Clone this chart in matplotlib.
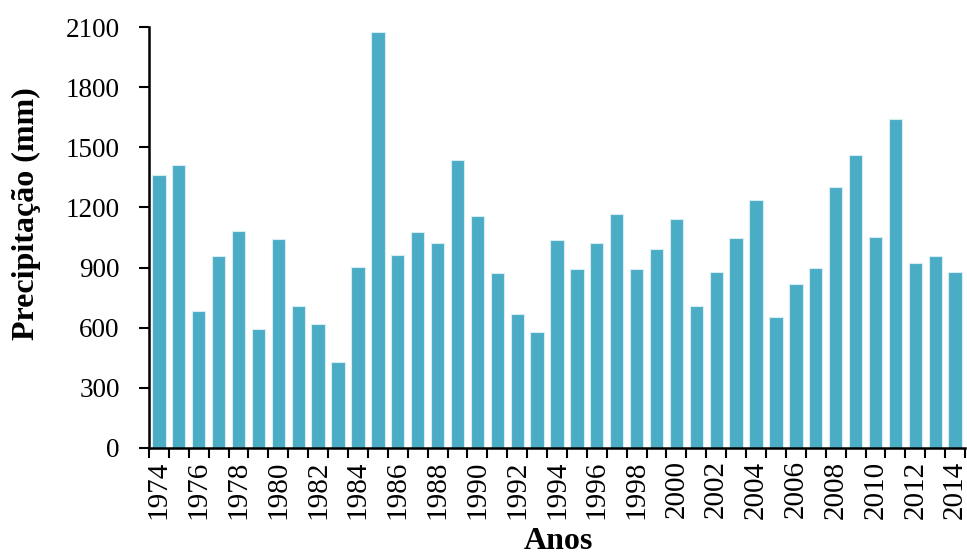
import numpy as np
import matplotlib
matplotlib.use('Agg')
import matplotlib.pyplot as plt

years = list(range(1974, 2015))
precip = [1360, 1412, 683, 956, 1084, 592, 1044, 710, 620, 431,
          903, 2075, 961, 1076, 1023, 1435, 1159, 871, 670, 580,
          1036, 891, 1021, 1166, 895, 994, 1141, 710, 880, 1048,
          1236, 654, 817, 898, 1302, 1460, 1051, 1640, 923, 956, 880]
y_ticks = [0, 300, 600, 900, 1200, 1500, 1800, 2100]

plt.rcParams['font.family'] = ['Liberation Serif', 'DejaVu Serif']

fig = plt.figure(figsize=(9.67, 5.57), dpi=100)
ax = fig.add_axes([0.154, 0.1957, 0.844, 0.7558])

x = np.arange(len(years))
ax.bar(x, precip, width=0.67, color='#4BACC6', edgecolor='#d8edf3', linewidth=0.8, zorder=2)

ax.set_xlim(-0.5, len(years) - 0.5)
ax.set_ylim(0, 2100)
ax.set_yticks(y_ticks)
ax.set_yticklabels([str(v) for v in y_ticks], fontsize=19.5)

# labels every other year, tick marks at category boundaries
ax.set_xticks(x[::2])
ax.set_xticklabels([str(y) for y in years[::2]], rotation=90, fontsize=21)
ax.set_xticks(np.arange(-0.5, len(years), 1.0), minor=True)
ax.tick_params(axis='x', which='major', length=0, pad=9)
ax.tick_params(axis='x', which='minor', length=7, width=1.5, direction='out')
ax.tick_params(axis='y', length=7, width=1.5, direction='out', pad=14)

for s in ['top', 'right']:
    ax.spines[s].set_visible(False)
for s in ['left', 'bottom']:
    ax.spines[s].set_linewidth(1.8)

ax.set_ylabel('Precipitação (mm)', fontsize=23, fontweight='bold', va='center', ha='center')
ax.yaxis.set_label_coords(-0.1495, 0.556)
ax.set_xlabel('Anos', fontsize=23, fontweight='bold', va='center', ha='center')
ax.xaxis.set_label_coords(0.502, -0.222)

fig.savefig('out.png', dpi=100)
